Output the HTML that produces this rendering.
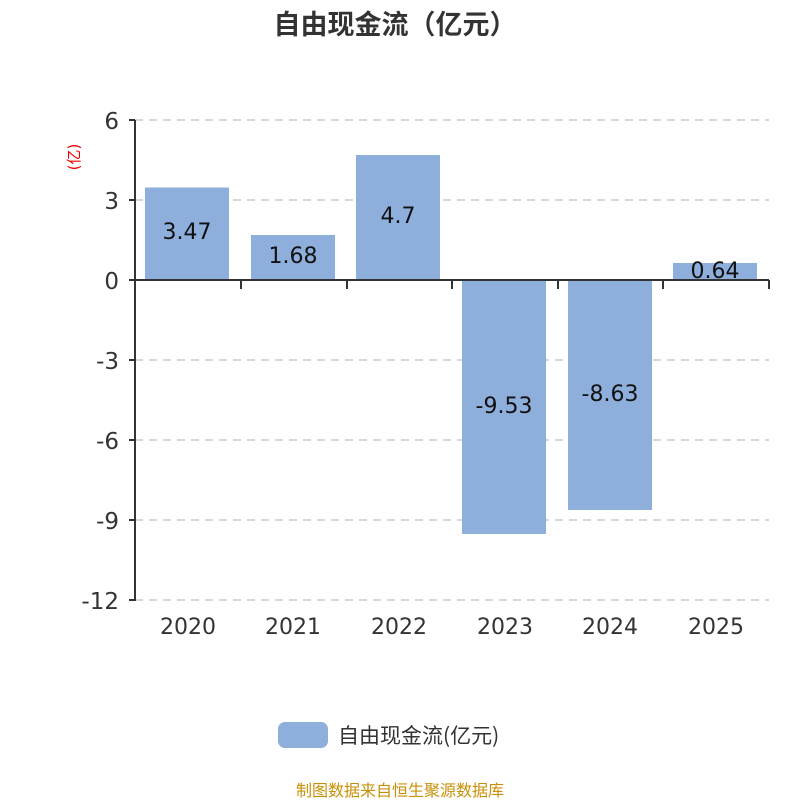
<!DOCTYPE html>
<html><head><meta charset="utf-8"><style>body{margin:0;background:#fff}svg{display:block}</style></head><body>
<svg width="800" height="800" xmlns="http://www.w3.org/2000/svg" font-family="'DejaVu Sans','Noto Sans CJK SC',sans-serif">
<text x="395" y="34" text-anchor="middle" font-size="27" font-weight="bold" fill="#333" font-family="'Noto Sans CJK SC',sans-serif">自由现金流（亿元）</text>
<g stroke="#ccc" stroke-width="1.5" stroke-dasharray="8,6">
<line x1="135" y1="120" x2="769" y2="120"/><line x1="135" y1="200" x2="769" y2="200"/>
<line x1="135" y1="360" x2="769" y2="360"/><line x1="135" y1="440" x2="769" y2="440"/>
<line x1="135" y1="520" x2="769" y2="520"/><line x1="135" y1="600" x2="769" y2="600"/>
</g>
<g fill="#8eaedb">
<rect x="145" y="187.5" width="84" height="92.5"/>
<rect x="251" y="235" width="84" height="45"/>
<rect x="356" y="155" width="84" height="125"/>
<rect x="462" y="280" width="84" height="254"/>
<rect x="568" y="280" width="84" height="230"/>
<rect x="673" y="263" width="84" height="17"/>
</g>
<g stroke="#333" stroke-width="2">
<line x1="135" y1="120" x2="135" y2="601"/>
<line x1="135" y1="280" x2="769" y2="280"/>
<line x1="129" y1="120" x2="135" y2="120"/><line x1="129" y1="200" x2="135" y2="200"/>
<line x1="129" y1="280" x2="135" y2="280"/><line x1="129" y1="360" x2="135" y2="360"/>
<line x1="129" y1="440" x2="135" y2="440"/><line x1="129" y1="520" x2="135" y2="520"/>
<line x1="129" y1="600" x2="135" y2="600"/>
<line x1="241" y1="280" x2="241" y2="289"/><line x1="347" y1="280" x2="347" y2="289"/>
<line x1="452" y1="280" x2="452" y2="289"/><line x1="558" y1="280" x2="558" y2="289"/>
<line x1="663" y1="280" x2="663" y2="289"/><line x1="769" y1="280" x2="769" y2="289"/>
</g>
<g font-size="23" fill="#333" text-anchor="end">
<text x="119" y="129">6</text><text x="119" y="209">3</text><text x="119" y="289">0</text>
<text x="119" y="369">-3</text><text x="119" y="449">-6</text><text x="119" y="529">-9</text><text x="119" y="609">-12</text>
</g>
<text transform="translate(79,157) rotate(-90)" text-anchor="middle" font-size="15" fill="#e00">(亿)</text>
<g font-size="22" fill="#333" text-anchor="middle">
<text x="188" y="634">2020</text><text x="293" y="634">2021</text><text x="399" y="634">2022</text>
<text x="505" y="634">2023</text><text x="610" y="634">2024</text><text x="716" y="634">2025</text>
</g>
<g font-size="22" fill="#111" text-anchor="middle">
<text x="187" y="239">3.47</text><text x="293" y="263">1.68</text><text x="398" y="223">4.7</text>
<text x="504" y="413">-9.53</text><text x="610" y="401">-8.63</text><text x="715" y="278">0.64</text>
</g>
<rect x="278" y="722" width="50" height="26" rx="7" fill="#8eaedb"/>
<text x="338" y="743" font-size="21" fill="#333" font-family="'Noto Sans CJK SC',sans-serif">自由现金流(亿元)</text>
<text x="400" y="796" text-anchor="middle" font-size="16" fill="#c8900a" font-family="'Noto Sans CJK SC',sans-serif">制图数据来自恒生聚源数据库</text>
</svg>
</body></html>
